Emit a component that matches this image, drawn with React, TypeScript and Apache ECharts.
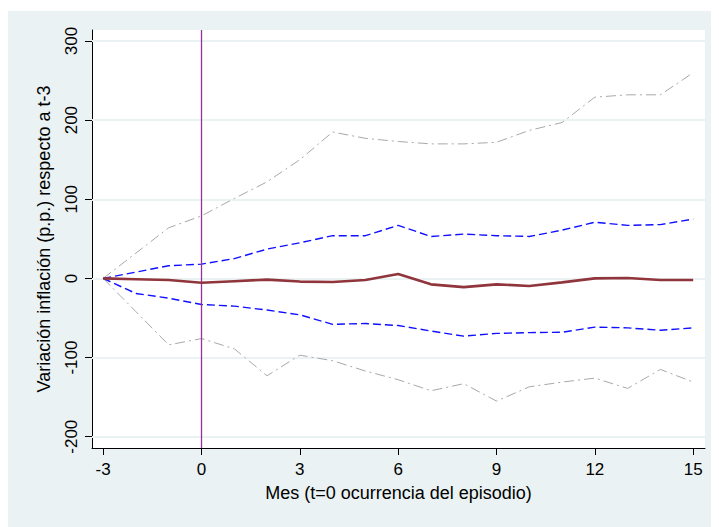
import React, { useEffect, useRef } from "react";
import * as echarts from "echarts";

const months = [-3, -2, -1, 0, 1, 2, 3, 4, 5, 6, 7, 8, 9, 10, 11, 12, 13, 14, 15];
const upperOuter = [0, 32, 64, 79, 101, 122, 150, 185, 177, 173, 170, 170, 172, 187, 197, 229, 232, 232, 260];
const upperInner = [0, 8, 16, 18, 25, 37, 45, 54, 54, 67, 53, 56, 54, 53, 61, 71, 67, 68, 75];
const estimate = [0, -1, -2, -5.5, -3.5, -1.5, -4, -4.5, -2, 5.5, -7.5, -11, -7.5, -9.5, -5, 0, 0.5, -2, -2];
const lowerInner = [0, -19, -25, -33, -35, -40, -46, -58, -57, -59.5, -66.5, -73, -69.5, -68.5, -68, -61.5, -62.5, -65.5, -62.5];
const lowerOuter = [0, -42, -84, -76, -89, -123, -97, -104, -117, -128, -142, -133, -155, -137, -131, -126, -139, -115, -131];
const xTicks = [-3, 0, 3, 6, 9, 12, 15];
const yTicks = [-200, -100, 0, 100, 200, 300];
const eventMonth = 0;

const FONT = "'Liberation Sans', Arial, sans-serif";

export default function App() {
  const ref = useRef<HTMLDivElement>(null);
  useEffect(() => {
    if (!ref.current) return;
    const chart = echarts.init(ref.current, undefined, { renderer: "svg" });
    const pts = (arr: number[]) => months.map((m, i) => [m, arr[i]]);
    chart.setOption({
      animation: false,
      backgroundColor: "#EAF2F3",
      textStyle: { fontFamily: FONT },
      grid: { left: 84, top: 19, right: 14, bottom: 79, show: true, backgroundColor: "#ffffff", borderWidth: 0 },
      xAxis: {
        type: "value",
        min: -3.34,
        max: 15.36,
        name: "Mes (t=0 ocurrencia del episodio)",
        nameLocation: "middle",
        nameGap: 36,
        nameTextStyle: { fontSize: 18, color: "#000", fontFamily: FONT },
        axisLine: { show: true, onZero: false, lineStyle: { color: "#000", width: 1 } },
        axisTick: { show: true, length: 7, customValues: xTicks, lineStyle: { color: "#000" } },
        axisLabel: { customValues: xTicks, fontSize: 17, color: "#000", margin: 13, fontFamily: FONT },
        splitLine: { show: false },
      },
      yAxis: {
        type: "value",
        min: -214.3,
        max: 313.9,
        name: "Variación inflación (p.p.) respecto a t-3",
        nameLocation: "middle",
        nameGap: 39,
        nameTextStyle: { fontSize: 18, color: "#000", fontFamily: FONT },
        axisLine: { show: true, onZero: false, lineStyle: { color: "#000", width: 1 } },
        axisTick: { show: true, length: 7, customValues: yTicks, lineStyle: { color: "#000" } },
        axisLabel: { customValues: yTicks, fontSize: 17, color: "#000", rotate: 90, margin: 12, fontFamily: FONT },
        splitLine: { show: false },
      },
      series: [
        {
          type: "line",
          z: 2,
          data: pts(upperOuter),
          symbol: "none",
          lineStyle: { color: "#A8A8A8", width: 1, type: [10, 4, 2, 4] },
          markLine: {
            silent: true,
            z: 1,
            symbol: ["none", "none"],
            label: { show: false },
            lineStyle: { color: "#EAF2F3", width: 2, type: "solid" },
            data: yTicks.map((v) => ({ yAxis: v })),
          },
        },
        {
          type: "line",
          z: 2,
          data: pts(lowerOuter),
          symbol: "none",
          lineStyle: { color: "#A8A8A8", width: 1, type: [10, 4, 2, 4] },
        },
        {
          type: "line",
          z: 3,
          data: pts(upperInner),
          symbol: "none",
          lineStyle: { color: "#1010FF", width: 1.4, type: [8, 4] },
        },
        {
          type: "line",
          z: 3,
          data: pts(lowerInner),
          symbol: "none",
          lineStyle: { color: "#1010FF", width: 1.4, type: [8, 4] },
        },
        {
          type: "line",
          z: 5,
          data: pts(estimate),
          symbol: "none",
          lineStyle: { color: "#90353B", width: 2.6 },
          markLine: {
            silent: true,
            z: 4,
            symbol: ["none", "none"],
            label: { show: false },
            lineStyle: { color: "#96309A", width: 1.3, type: "solid" },
            data: [{ xAxis: eventMonth }],
          },
        },
      ],
    });
    return () => chart.dispose();
  }, []);
  return <div ref={ref} style={{ width: 711, height: 516, marginTop: 3 }} />;
}
